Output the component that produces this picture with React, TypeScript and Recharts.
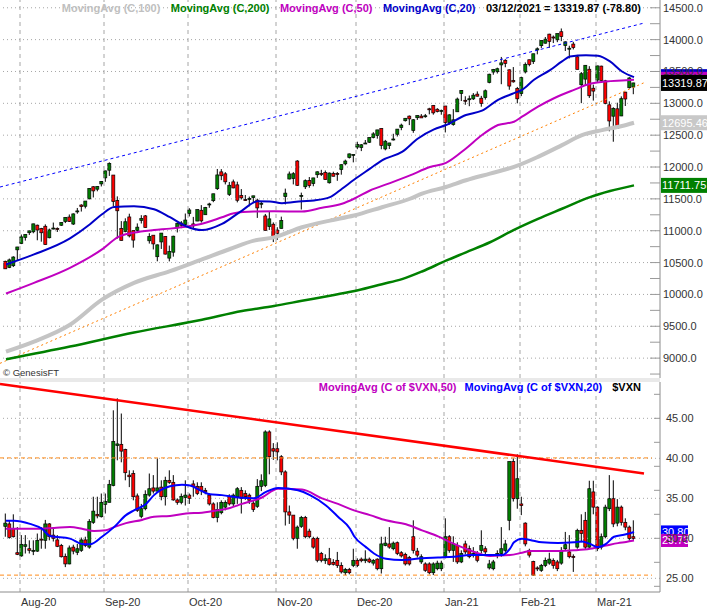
import React from 'react';
import { ComposedChart, Bar, Line, XAxis, YAxis, ReferenceLine } from 'recharts';

const FONT = '"Liberation Sans", Arial, sans-serif';

// shared time axis: one slot per trading day, slot -1 is left padding, 158..163 right padding
const SLOT_FIRST = -1;
const SLOT_LAST = 163;

const monthStarts = [4, 25, 46, 68, 88, 110, 129, 148];
const monthLabels = ['Aug-20', 'Sep-20', 'Oct-20', 'Nov-20', 'Dec-20', 'Jan-21', 'Feb-21', 'Mar-21'];

type OHLC = [number, number, number, number];

// Nasdaq Composite, open / high / low / close, Jul 28 2020 .. Mar 12 2021
const compCandles: OHLC[] = [
  [10520, 10530, 10400, 10402], [10423, 10563, 10413, 10542], [10451, 10600, 10430, 10587], [10700, 10746, 10531, 10745],
  [10800, 10941, 10790, 10903], [10894, 10945, 10845, 10941], [10969, 11002, 10934, 10998], [10983, 11110, 10960, 11108],
  [11087, 11096, 10850, 11011], [11033, 11045, 10828, 10968], [11070, 11100, 10780, 10782], [10890, 11033, 10880, 11012],
  [11040, 11128, 11020, 11042], [11037, 11052, 10980, 11019], [11086, 11134, 11075, 11129], [11145, 11212, 11120, 11210],
  [11215, 11255, 11137, 11146], [11105, 11272, 11090, 11264], [11302, 11357, 11267, 11311], [11403, 11416, 11301, 11379],
  [11384, 11466, 11350, 11466], [11500, 11666, 11494, 11665], [11690, 11700, 11522, 11625], [11652, 11700, 11619, 11695],
  [11735, 11780, 11695, 11775],
  [11830, 11945, 11768, 11939], [11950, 12074, 11860, 12056], [11874, 11874, 11386, 11458], [11475, 11539, 10876, 11313],
  [11036, 11151, 10845, 10847], [10989, 11195, 10975, 11141], [11216, 11267, 10895, 10919], [11002, 11004, 10734, 10853],
  [11006, 11115, 10977, 11056], [11163, 11244, 11113, 11190], [11233, 11247, 11049, 11050], [10842, 10961, 10798, 10910],
  [10930, 10930, 10706, 10793], [10592, 10785, 10520, 10778], [10824, 10964, 10714, 10963], [10910, 10916, 10627, 10633],
  [10570, 10767, 10519, 10672], [10663, 10922, 10593, 10914], [11047, 11125, 10973, 11117], [11121, 11151, 11040, 11085],
  [11100, 11270, 11070, 11168],
  [11272, 11354, 11224, 11326], [11107, 11217, 11043, 11076], [11152, 11334, 11150, 11332], [11321, 11402, 11128, 11155],
  [11251, 11374, 11249, 11364], [11411, 11439, 11360, 11420], [11472, 11580, 11448, 11580], [11660, 11969, 11640, 11876],
  [11924, 11967, 11794, 11863], [11893, 11920, 11727, 11768], [11570, 11765, 11545, 11714], [11767, 11803, 11666, 11672],
  [11720, 11770, 11445, 11478], [11551, 11654, 11490, 11516], [11488, 11560, 11467, 11485], [11490, 11536, 11383, 11506],
  [11520, 11549, 11443, 11548], [11480, 11503, 11201, 11358], [11421, 11463, 11353, 11431], [11232, 11263, 11003, 11004],
  [11064, 11296, 11012, 11186], [11102, 11131, 10822, 10912],
  [11010, 11055, 10857, 10957], [11037, 11221, 11034, 11161], [11535, 11661, 11413, 11590], [11812, 11929, 11806, 11891],
  [11819, 11920, 11727, 11895], [12094, 12108, 11703, 11713], [11548, 11598, 11333, 11554], [11690, 11806, 11655, 11786],
  [11789, 11843, 11675, 11710], [11740, 11831, 11698, 11829], [11879, 11932, 11829, 11925], [11900, 11956, 11859, 11899],
  [11912, 11946, 11801, 11802], [11753, 11915, 11740, 11905], [11897, 11927, 11854, 11855], [11900, 11921, 11784, 11881],
  [11960, 12041, 11880, 12037], [12050, 12116, 12027, 12094], [12150, 12212, 12134, 12206], [12183, 12200, 12073, 12199],
  [12313, 12397, 12280, 12355], [12305, 12360, 12250, 12349], [12371, 12424, 12365, 12377], [12389, 12464, 12377, 12464],
  [12463, 12547, 12450, 12520], [12495, 12583, 12445, 12583], [12605, 12607, 12279, 12339], [12284, 12426, 12262, 12405],
  [12336, 12380, 12283, 12378], [12436, 12522, 12417, 12440], [12514, 12596, 12479, 12595], [12620, 12681, 12578, 12658],
  [12727, 12770, 12714, 12765], [12799, 12809, 12658, 12756], [12574, 12752, 12537, 12742], [12774, 12812, 12739, 12807],
  [12799, 12831, 12771, 12771], [12791, 12833, 12774, 12805], [12914, 12930, 12827, 12900], [12965, 12974, 12822, 12850],
  [12907, 12924, 12857, 12870], [12877, 12902, 12821, 12888],
  [12958, 12958, 12543, 12698], [12699, 12828, 12665, 12819], [12666, 12909, 12649, 12741], [12867, 13090, 12867, 13067],
  [13154, 13208, 13036, 13202], [13048, 13111, 12977, 13036], [13071, 13122, 12955, 13072], [13070, 13161, 13052, 13128],
  [13144, 13187, 13108, 13112], [13080, 13117, 12947, 12999], [13090, 13217, 13058, 13197], [13329, 13465, 13314, 13457],
  [13491, 13540, 13449, 13530], [13496, 13560, 13468, 13543], [13603, 13728, 13300, 13635], [13676, 13693, 13566, 13626],
  [13526, 13534, 13213, 13271], [13357, 13569, 13324, 13337], [13232, 13257, 13000, 13071],
  [13152, 13418, 13113, 13403], [13493, 13642, 13469, 13612], [13684, 13686, 13581, 13610], [13655, 13778, 13618, 13778],
  [13838, 13878, 13769, 13856], [13905, 13987, 13869, 13987], [13944, 14041, 13937, 14007], [14086, 14092, 13870, 13973],
  [14041, 14065, 13946, 14025], [13997, 14095, 13960, 14095], [14124, 14175, 13976, 14047], [13907, 13973, 13822, 13965],
  [13858, 13904, 13705, 13865], [13930, 13965, 13846, 13874], [13730, 13760, 13531, 13533], [13292, 13491, 13003, 13465],
  [13380, 13600, 13289, 13597], [13535, 13583, 13085, 13119], [13237, 13293, 13043, 13192],
  [13365, 13590, 13325, 13588], [13584, 13591, 13357, 13358], [13353, 13368, 12985, 12998], [12976, 13031, 12561, 12723],
  [12798, 12938, 12397, 12920], [12914, 13010, 12608, 12609], [12802, 13109, 12799, 13073], [13176, 13180, 12958, 13068],
  [13245, 13411, 13231, 13398], [13256, 13323, 13143, 13320],
];

// $VXN, open / high / low / close, same days
const vxnCandles: OHLC[] = [
  [31.5, 33.1, 30.2, 31.9], [31.8, 32.25, 29.96, 30.1], [31.2, 33.0, 30.1, 30.2], [28.2, 31.4, 27.9, 28.0],
  [27.8, 30.4, 27.7, 29.25], [29.0, 30.4, 28.1, 29.2], [28.7, 29.75, 28.1, 28.5], [28.4, 29.75, 27.9, 28.5],
  [28.4, 30.6, 28.3, 29.75], [29.9, 31.4, 28.7, 29.8], [29.75, 32.3, 28.7, 31.8], [31.8, 31.9, 29.75, 30.2],
  [30.4, 31.4, 29.6, 30.0], [29.8, 30.4, 28.9, 29.0], [29.1, 29.3, 27.6, 27.7], [27.75, 28.1, 26.4, 26.8],
  [26.8, 29.1, 26.75, 28.8], [28.9, 29.2, 28.0, 28.4], [28.25, 29.3, 27.9, 28.7], [28.5, 30.1, 28.3, 29.8],
  [29.8, 30.2, 28.9, 29.1], [28.9, 32.4, 28.7, 32.1], [32.0, 35.2, 31.8, 33.4], [33.0, 35.2, 32.5, 32.8],
  [32.7, 35.6, 32.6, 34.5],
  [34.25, 35.6, 33.1, 34.6], [34.5, 37.3, 34.5, 36.75], [36.6, 46.0, 36.5, 42.1], [41.6, 47.5, 39.75, 41.8],
  [41.75, 45.6, 39.5, 40.9], [41.1, 41.2, 37.25, 38.2], [37.9, 38.5, 36.4, 37.7], [38.1, 38.5, 34.75, 35.2],
  [35.3, 35.6, 33.3, 33.5], [32.75, 34.3, 32.5, 33.7], [33.7, 36.0, 33.5, 35.5], [35.4, 38.1, 35.2, 36.2],
  [36.3, 37.9, 35.6, 35.9], [35.9, 40.0, 35.8, 36.3], [36.4, 37.25, 34.75, 35.2], [35.2, 37.7, 34.1, 37.25],
  [37.25, 38.5, 36.8, 37.0], [37.0, 37.9, 34.7, 34.8], [34.8, 35.0, 34.2, 34.5], [34.5, 35.6, 34.25, 35.25],
  [35.1, 37.25, 34.1, 35.4],
  [35.4, 35.6, 34.3, 35.0], [36.8, 37.25, 35.2, 36.5], [36.5, 37.0, 35.4, 35.6], [36.5, 37.0, 35.4, 36.0],
  [36.0, 36.3, 35.5, 35.8], [35.4, 35.6, 34.1, 34.3], [34.3, 34.5, 32.5, 32.6], [32.6, 34.5, 32.0, 33.6],
  [33.2, 34.75, 33.0, 34.5], [33.9, 34.75, 33.5, 34.5], [35.2, 35.5, 34.1, 34.3], [34.3, 35.6, 34.0, 35.4],
  [35.2, 36.4, 34.3, 36.2], [36.0, 36.4, 33.1, 35.0], [35.6, 36.0, 34.8, 35.2], [35.4, 35.6, 34.3, 34.75],
  [34.4, 34.8, 33.3, 33.6], [34.0, 37.4, 33.8, 36.5], [36.5, 38.0, 35.9, 37.2], [36.6, 43.5, 36.4, 43.3],
  [43.3, 43.5, 38.0, 40.2], [41.2, 41.9, 39.8, 40.9],
  [41.2, 42.0, 39.75, 40.8], [40.2, 40.4, 37.9, 38.3], [38.3, 38.5, 31.6, 33.3], [33.3, 34.1, 31.8, 32.9],
  [32.9, 32.9, 29.75, 30.0], [30.0, 31.6, 28.7, 31.4], [31.5, 32.8, 31.3, 32.6], [32.6, 32.8, 30.0, 30.2],
  [30.9, 31.2, 30.0, 30.2], [30.0, 30.2, 28.7, 28.9], [30.0, 30.2, 27.0, 27.25], [28.1, 28.3, 27.0, 27.25],
  [27.2, 28.0, 26.8, 27.45], [27.45, 28.8, 26.6, 26.75], [27.0, 27.4, 26.6, 26.75], [27.25, 28.3, 26.3, 26.6],
  [26.6, 27.0, 25.6, 25.8], [25.7, 26.3, 25.4, 26.1], [26.1, 26.3, 25.5, 25.7], [26.6, 28.7, 26.4, 27.25],
  [27.25, 27.5, 26.4, 26.6], [27.4, 27.6, 27.0, 27.2], [27.2, 28.5, 26.9, 27.4], [27.4, 27.6, 26.9, 27.05],
  [26.9, 27.4, 26.6, 27.25], [27.4, 27.5, 26.0, 26.2], [26.2, 30.2, 25.6, 29.3], [29.1, 30.2, 29.0, 29.4],
  [29.3, 31.4, 28.7, 28.9], [28.7, 29.6, 28.5, 29.4], [29.45, 29.6, 27.9, 28.1], [28.2, 28.4, 27.6, 27.8],
  [28.0, 28.2, 26.6, 26.8], [27.6, 27.8, 26.6, 26.8], [30.2, 32.25, 28.1, 28.5], [28.4, 28.8, 27.6, 27.9],
  [27.05, 28.0, 26.8, 27.7], [26.8, 27.0, 25.8, 26.0], [26.8, 27.0, 25.5, 25.7], [25.7, 27.0, 25.4, 26.8],
  [26.2, 27.2, 26.0, 26.9], [26.2, 27.2, 25.9, 26.9],
  [27.7, 32.5, 27.5, 30.2], [30.2, 30.4, 28.2, 28.5], [28.5, 30.25, 27.05, 29.3], [29.1, 29.5, 26.8, 27.05],
  [27.05, 28.5, 26.9, 28.1], [29.3, 29.7, 28.0, 28.3], [28.7, 29.1, 27.5, 27.7], [27.9, 28.9, 27.6, 28.1],
  [28.1, 28.4, 27.0, 27.25], [28.5, 31.0, 28.1, 29.1], [28.7, 29.0, 28.0, 28.3], [26.3, 27.3, 26.1, 26.8],
  [26.2, 27.3, 26.0, 27.05], [27.9, 28.5, 27.5, 28.1], [28.1, 31.4, 27.7, 28.7], [28.5, 29.8, 28.2, 29.3],
  [32.25, 39.6, 31.0, 39.6], [39.6, 40.0, 34.6, 34.95], [34.95, 40.5, 33.7, 37.45],
  [34.3, 35.2, 32.9, 34.1], [31.9, 32.0, 29.0, 29.3], [28.5, 28.7, 27.6, 27.9], [27.1, 27.2, 25.3, 25.4],
  [26.3, 26.5, 25.9, 26.2], [26.0, 26.8, 25.8, 26.6], [26.6, 27.6, 26.4, 27.25], [26.9, 28.2, 26.7, 27.4],
  [27.25, 27.5, 26.2, 26.6], [27.05, 27.3, 25.9, 26.2], [26.9, 28.9, 26.7, 28.5], [28.7, 30.8, 28.5, 29.2],
  [28.3, 30.4, 27.5, 27.7], [27.75, 28.0, 25.8, 27.6], [28.9, 31.2, 28.7, 31.0], [31.0, 33.0, 29.5, 30.6],
  [32.25, 33.3, 28.6, 28.9], [28.9, 37.2, 28.7, 36.2], [35.8, 37.2, 33.0, 33.9],
  [33.9, 34.0, 28.4, 28.7], [28.9, 30.6, 28.6, 30.2], [30.2, 34.2, 30.0, 33.9], [33.7, 37.9, 33.4, 34.95],
  [34.95, 37.25, 31.4, 31.8], [31.9, 34.9, 31.5, 33.9], [33.9, 34.1, 31.6, 32.0], [32.0, 32.5, 31.0, 31.4],
  [31.4, 31.6, 29.7, 29.96], [30.2, 32.25, 29.8, 30.0],
];

// moving averages: [day slot, value]
const compMa20: [number, number][] = [
  [0, 10470], [7, 10628], [16, 10880], [21, 11101], [24, 11258], [27, 11374], [32, 11385], [37, 11338], [41, 11212],
  [45, 11070], [49, 11010], [54, 11107], [59, 11317], [63, 11464], [66, 11459], [69, 11432], [74, 11464], [77, 11475],
  [81, 11527], [84, 11659], [87, 11800], [91, 11975], [94, 12106], [99, 12237], [103, 12448], [107, 12590], [110, 12659],
  [115, 12817], [119, 12885], [123, 13054], [127, 13159], [129, 13211], [132, 13369], [136, 13520], [139, 13658],
  [141, 13735], [145, 13755], [148, 13746], [151, 13658], [154, 13500], [157, 13411],
];
const compMa50: [number, number][] = [
  [0, 10013], [7, 10181], [16, 10418], [24, 10707], [28, 10901], [32, 10970], [37, 11011], [41, 11033], [46, 11074],
  [49, 11110], [54, 11211], [57, 11275], [62, 11301], [67, 11306], [74, 11301], [79, 11359], [84, 11423], [87, 11502],
  [91, 11632], [96, 11748], [101, 11869], [106, 12000], [110, 12065], [115, 12292], [119, 12502], [123, 12659],
  [127, 12711], [129, 12790], [133, 12948], [137, 13080], [142, 13211], [146, 13306], [150, 13342], [154, 13358],
  [157, 13369],
];
const compMa100: [number, number][] = [
  [0, 9103], [7, 9260], [16, 9524], [24, 9918], [32, 10181], [41, 10365], [49, 10550], [56, 10713], [62, 10844],
  [67, 10896], [74, 11054], [81, 11159], [87, 11238], [94, 11369], [101, 11502], [104, 11582], [110, 11686],
  [115, 11792], [121, 11897], [127, 12002], [133, 12160], [139, 12344], [144, 12502], [149, 12580], [154, 12644],
  [157, 12695],
];
const compMa200: [number, number][] = [
  [0, 8982], [16, 9181], [32, 9402], [49, 9602], [59, 9740], [67, 9819], [74, 9900], [82, 9992], [88, 10066],
  [94, 10161], [99, 10240], [104, 10360], [110, 10530], [115, 10661], [121, 10819], [127, 11014], [133, 11187],
  [139, 11345], [146, 11528], [151, 11623], [157, 11712],
];
const vxnMa20: [number, number][] = [
  [0, 32.2], [2, 32.2], [6, 31.8], [9, 31.2], [11, 30.3], [16, 29.96], [19, 29.3], [21, 29.25], [24, 30.2], [27, 31.4],
  [30, 32.9], [32, 33.5], [35, 34.3], [37, 35.4], [41, 36.5], [44, 36.7], [46, 36.6], [49, 35.9], [51, 35.5], [54, 35.4],
  [58, 35.1], [62, 35.0], [65, 35.8], [68, 36.3], [73, 36.0], [76, 35.4], [80, 34.1], [83, 32.7], [86, 31.2], [87, 30.3],
  [90, 28.9], [92, 28.1], [95, 27.45], [99, 27.3], [104, 27.5], [108, 27.6], [112, 27.7], [116, 27.9], [121, 27.9],
  [124, 27.9], [126, 28.7], [127, 29.5], [129, 29.96], [131, 29.8], [134, 29.5], [138, 29.4], [142, 29.5], [144, 29.6],
  [146, 29.3], [148, 28.9], [150, 29.3], [152, 30.2], [155, 30.5], [157, 30.8],
];
const vxnMa50: [number, number][] = [
  [0, 31.2], [7, 31.2], [12, 31.3], [16, 31.4], [19, 31.2], [22, 30.9], [25, 31.0], [27, 31.4], [30, 31.9], [34, 32.3],
  [37, 32.7], [41, 32.8], [45, 33.1], [49, 33.2], [53, 33.5], [56, 33.8], [59, 34.3], [64, 35.1], [68, 36.2], [74, 36.1],
  [79, 35.0], [83, 34.3], [87, 33.5], [91, 32.9], [95, 32.25], [100, 31.75], [104, 31.0], [108, 30.25], [112, 29.3],
  [116, 28.5], [121, 27.8], [126, 27.9], [129, 28.2], [131, 28.4], [138, 28.4], [142, 28.5], [146, 28.7], [148, 28.9],
  [150, 29.1], [153, 29.4], [155, 29.55], [157, 29.73],
];

const compGrid = [9000, 9500, 10000, 10500, 11000, 11500, 12000, 12500, 13000, 13500, 14000, 14500];
const compTicks = [
  8750, 9000, 9250, 9500, 9750, 10000, 10250, 10500, 10750, 11000, 11250, 11500, 11750, 12000,
  12250, 12500, 12750, 13000, 13250, 13500, 13750, 14000, 14250, 14500,
];
const vxnGrid = [25, 30, 35, 40, 45];
const vxnTicks = [24, 25, 27, 30, 33, 35, 36, 39, 40, 42, 45, 48];

// trend lines: [slot, value] at each end
const compUpperTrend: [number, number][] = [[-1, 11686], [160, 14260]];
const compLowerTrend: [number, number][] = [[-1, 8918], [160, 13323]];
const vxnDownTrend: [number, number][] = [[-1, 49.3], [160, 38.1]];
const vxnLevels = [40.05, 25.4];

const compLast = { price: 13319.87, ma20: 13411, ma50: 13369, ma100: 12695.46, ma200: 11711.75 };
const vxnLast = { ma20: 30.8, ma50: 29.73 };

const buildRows = (candles: OHLC[], lines: Record<string, [number, number][]>) => {
  const rows: any[] = [];
  for (let i = SLOT_FIRST; i <= SLOT_LAST; i++) {
    const row: any = { i };
    const bar = i >= 0 ? candles[i] : undefined;
    if (bar) {
      const [o, h, l, c] = bar;
      Object.assign(row, { o, h, l, c, hl: [l, h] });
    }
    rows.push(row);
  }
  Object.keys(lines).forEach((key) => {
    lines[key].forEach(([i, v]) => {
      rows[i - SLOT_FIRST][key] = v;
    });
  });
  return rows;
};

const compRows = buildRows(compCandles, { ma20: compMa20, ma50: compMa50, ma100: compMa100, ma200: compMa200 });
const vxnRows = buildRows(vxnCandles, { ma20: vxnMa20, ma50: vxnMa50 });

const Candle = (props: any) => {
  const { x, y, width, height, payload } = props;
  if (!payload || payload.o == null || !Number.isFinite(y)) return null;
  const { o, h, l, c } = payload;
  const cx = x + width / 2;
  const k = h === l ? 0 : height / (h - l);
  const top = y + (h - Math.max(o, c)) * k;
  const bot = y + (h - Math.min(o, c)) * k;
  return (
    <g>
      <line x1={cx - 0.5} x2={cx - 0.5} y1={y} y2={y + height} stroke="#000" strokeWidth={1} />
      <rect
        x={cx - 2}
        y={top}
        width={3}
        height={Math.max(bot - top, 1)}
        fill={c >= o ? '#008000' : '#ff0000'}
        stroke="#000"
        strokeWidth={0.7}
      />
    </g>
  );
};

const PriceTick = (props: any) => {
  const { x, y, payload } = props;
  const v = payload.value;
  return (
    <g>
      <line x1={x - 10} x2={x} y1={y} y2={y} stroke="#9a9a9a" strokeWidth={1} />
      {v % 500 === 0 && (
        <text x={x + 3} y={y + 4} fontSize={11} fontFamily={FONT} fill="#333">
          {v.toFixed(1)}
        </text>
      )}
    </g>
  );
};

const VxnTick = (props: any) => {
  const { x, y, payload } = props;
  const v = payload.value;
  return (
    <g>
      {v % 3 === 0 && <line x1={x - 6} x2={x} y1={y} y2={y} stroke="#9a9a9a" strokeWidth={1} />}
      {v % 5 === 0 && (
        <text x={x + 6} y={y + 4} fontSize={11} fontFamily={FONT} fill="#333">
          {v.toFixed(2)}
        </text>
      )}
    </g>
  );
};

const MonthTick = (props: any) => {
  const { x, y, payload } = props;
  const idx = monthStarts.indexOf(payload.value);
  return (
    <text x={x - 1} y={y + 13.5} fontSize={11} fontFamily={FONT} fill="#333">
      {monthLabels[idx]}
    </text>
  );
};

const tag = (text: string, bg: string, w: number, h: number) => (props: any) => {
  const vb = props.viewBox || {};
  const left = (vb.x ?? 0) + (vb.width ?? 0) + 1;
  const cy = vb.y ?? 0;
  return (
    <g>
      <rect x={left} y={cy - h / 2} width={w} height={h} fill={bg} />
      {text && (
        <text x={left + 1} y={cy + 4} fontSize={11} fontFamily={FONT} fill="#fff">
          {text}
        </text>
      )}
    </g>
  );
};

const seg = (pts: [number, number][]) => pts.map(([x, y]) => ({ x, y }));

const gridLines = (values: number[]) =>
  values.map((v) => (
    <ReferenceLine key={`h${v}`} y={v} stroke="#a6a6a6" strokeDasharray="1 3" />
  ));

const monthLines = () =>
  monthStarts.map((m) => (
    <ReferenceLine key={`v${m}`} x={m} position="start" stroke="#a6a6a6" strokeDasharray="4 4" />
  ));

export default function App() {
  return (
    <div style={{ position: 'absolute', left: 0, top: 0, width: 707, height: 609, background: '#fff', overflow: 'hidden' }}>
      <div style={{ position: 'absolute', left: 0, top: 0 }}>
        <ComposedChart width={707} height={378} data={compRows} margin={{ top: 0, right: 0, bottom: 0, left: 0 }}>
          <XAxis dataKey="i" type="category" hide />
          <YAxis
            orientation="right"
            width={47}
            type="number"
            domain={[8688, 14622]}
            allowDataOverflow
            ticks={compTicks}
            interval={0}
            tickSize={0}
            tickMargin={0}
            tickLine={false}
            axisLine={{ stroke: '#8c8c8c' }}
            tick={(p: any) => <PriceTick {...p} />}
          />
          {gridLines(compGrid)}
          {monthLines()}
          <ReferenceLine segment={seg(compUpperTrend)} position="start" stroke="#0000ff" strokeDasharray="3 3" />
          <ReferenceLine segment={seg(compLowerTrend)} position="start" stroke="#ff8000" strokeDasharray="2 3" />
          <Line dataKey="ma100" type="monotone" stroke="#c4c4c4" strokeWidth={4} dot={false} activeDot={false} connectNulls isAnimationActive={false} />
          <Line dataKey="ma200" type="monotone" stroke="#008000" strokeWidth={2.5} dot={false} activeDot={false} connectNulls isAnimationActive={false} />
          <Line dataKey="ma50" type="monotone" stroke="#c000c0" strokeWidth={2} dot={false} activeDot={false} connectNulls isAnimationActive={false} />
          <Line dataKey="ma20" type="monotone" stroke="#0000c8" strokeWidth={2} dot={false} activeDot={false} connectNulls isAnimationActive={false} />
          <Bar dataKey="hl" barSize={4} shape={Candle} isAnimationActive={false} />
          <ReferenceLine y={compLast.ma20} stroke="none" label={tag('', '#0000c8', 46, 16)} />
          <ReferenceLine y={compLast.ma50} stroke="none" label={tag('', '#c000c0', 46, 16)} />
          <ReferenceLine y={compLast.price} stroke="none" label={tag(compLast.price.toFixed(2), '#000', 46, 16)} />
          <ReferenceLine y={compLast.ma100} stroke="none" label={tag(compLast.ma100.toFixed(2), '#c8c8c8', 46, 15)} />
          <ReferenceLine y={compLast.ma200} stroke="none" label={tag(compLast.ma200.toFixed(2), '#008000', 46, 15)} />
        </ComposedChart>
      </div>
      <div style={{ position: 'absolute', left: 0, top: 382 }}>
        <ComposedChart width={707} height={227} data={vxnRows} margin={{ top: 0, right: 0, bottom: 0, left: 0 }}>
          <XAxis
            dataKey="i"
            type="category"
            height={17}
            ticks={monthStarts}
            interval={0}
            tickSize={0}
            tickMargin={0}
            tickLine={false}
            axisLine={{ stroke: '#8c8c8c' }}
            tick={(p: any) => <MonthTick {...p} />}
          />
          <YAxis
            orientation="right"
            width={47}
            type="number"
            domain={[23.29, 49.54]}
            allowDataOverflow
            ticks={vxnTicks}
            interval={0}
            tickSize={0}
            tickMargin={0}
            tickLine={false}
            axisLine={{ stroke: '#8c8c8c' }}
            tick={(p: any) => <VxnTick {...p} />}
          />
          {gridLines(vxnGrid)}
          {monthLines()}
          {vxnLevels.map((v) => (
            <ReferenceLine
              key={`lvl${v}`}
              segment={[{ x: SLOT_FIRST, y: v }, { x: 162, y: v }]}
              position="start"
              stroke="#ff8c1a"
              strokeDasharray="4 3"
            />
          ))}
          <ReferenceLine segment={seg(vxnDownTrend)} position="start" stroke="#ff0000" strokeWidth={2.5} />
          <Line dataKey="ma50" type="monotone" stroke="#c000c0" strokeWidth={2} dot={false} activeDot={false} connectNulls isAnimationActive={false} />
          <Line dataKey="ma20" type="monotone" stroke="#0000ff" strokeWidth={2} dot={false} activeDot={false} connectNulls isAnimationActive={false} />
          <Bar dataKey="hl" barSize={4} shape={Candle} isAnimationActive={false} />
          <ReferenceLine y={vxnLast.ma20} stroke="none" label={tag(vxnLast.ma20.toFixed(2), '#0000ff', 27, 13)} />
          <ReferenceLine y={vxnLast.ma50} stroke="none" label={tag(vxnLast.ma50.toFixed(2), '#c000c0', 27, 13)} />
        </ComposedChart>
      </div>
      <svg width={707} height={609} style={{ position: 'absolute', left: 0, top: 0, pointerEvents: 'none' }}>
        <rect x={0} y={378} width={660} height={4} fill="#e9e9e9" />
        <text x={641} y={11.5} textAnchor="end" fontFamily={FONT} fontSize={11} fontWeight="bold">
          <tspan fill="#c0c0c0">MovingAvg (C,100)</tspan>
          <tspan dx={10.5} fill="#008000">MovingAvg (C,200)</tspan>
          <tspan dx={10.5} fill="#c000c0">MovingAvg (C,50)</tspan>
          <tspan dx={10.5} fill="#0000c8">MovingAvg (C,20)</tspan>
          <tspan dx={10.5} fill="#000">03/12/2021 = 13319.87 (-78.80)</tspan>
        </text>
        <text x={3} y={376} fontFamily={FONT} fontSize={9.5} fill="#333">
          © GenesisFT
        </text>
        <text x={641} y={391} textAnchor="end" fontFamily={FONT} fontSize={11} fontWeight="bold">
          <tspan fill="#c000c0">MovingAvg (C of $VXN,50)</tspan>
          <tspan dx={8} fill="#0000ff">MovingAvg (C of $VXN,20)</tspan>
          <tspan dx={10} fill="#000">$VXN</tspan>
        </text>
      </svg>
    </div>
  );
}
